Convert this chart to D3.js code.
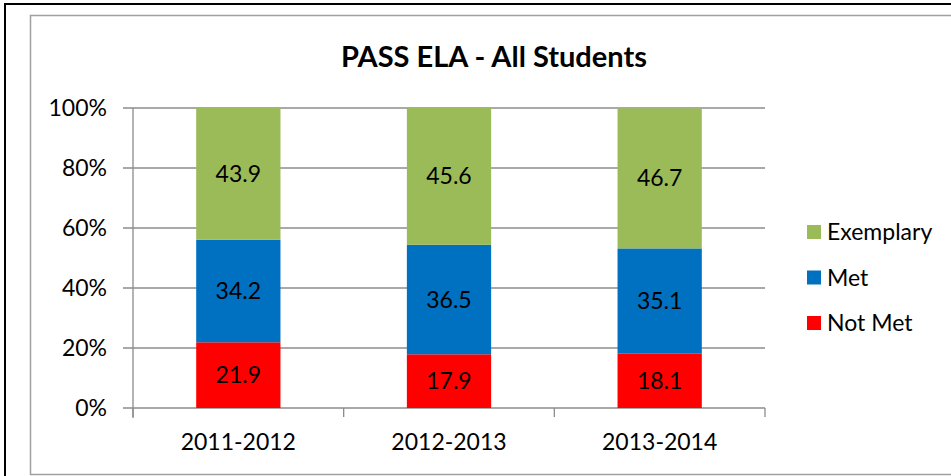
<!DOCTYPE html>
<html><head><meta charset="utf-8">
<script src="https://cdn.jsdelivr.net/npm/d3@7"></script>
<style>body{margin:0;background:#fff}svg{display:block}text{font-family:Lato,"Open Sans",sans-serif}</style>
</head><body>
<script>
const categories = ["2011-2012","2012-2013","2013-2014"];
const seriesNames = ["Not Met","Met","Exemplary"];
const notMet = [21.9,17.9,18.1];
const met = [34.2,36.5,35.1];
const exemplary = [43.9,45.6,46.7];
const yTicks = [0,20,40,60,80,100];
const colors = {"Not Met":"#FF0000","Met":"#0070C0","Exemplary":"#9BBB59"};

const W=951,H=476;
const svg=d3.select("body").append("svg").attr("width",W).attr("height",H);
// outer black frame
svg.append("rect").attr("x",5).attr("y",4).attr("width",W+10).attr("height",H+10)
  .attr("fill","none").attr("stroke","#000").attr("stroke-width",2);
// chart area frame
svg.append("rect").attr("x",30.5).attr("y",15.5).attr("width",W).attr("height",459)
  .attr("fill","#fff").attr("stroke","#a0a0a0").attr("stroke-width",1.5);

const m={l:133,t:108,r:765,b:408};
const x=d3.scaleBand().domain(categories).range([m.l,m.r]).paddingInner(0.6).paddingOuter(0.3);
const y=d3.scaleLinear().domain([0,100]).range([m.b,m.t]);

// gridlines
svg.append("g").selectAll("line").data(yTicks).join("line")
  .attr("x1",m.l-10).attr("x2",m.r).attr("y1",d=>y(d)).attr("y2",d=>y(d))
  .attr("stroke","#8c8c8c").attr("stroke-width",1.3);
// y axis line
svg.append("line").attr("x1",m.l).attr("x2",m.l).attr("y1",m.t).attr("y2",m.b+10)
  .attr("stroke","#8c8c8c").attr("stroke-width",1.3);
// x ticks at band boundaries
const bounds=[m.l, ...categories.map((c,i)=>m.l+(m.r-m.l)*(i+1)/categories.length)];
svg.append("g").selectAll("line").data(bounds).join("line")
  .attr("x1",d=>d).attr("x2",d=>d).attr("y1",m.b).attr("y2",m.b+9)
  .attr("stroke","#8c8c8c").attr("stroke-width",1.3);

// y labels
svg.append("g").selectAll("text").data(yTicks).join("text")
  .attr("x",107).attr("y",d=>y(d)).attr("dy","0.35em").attr("text-anchor","end")
  .attr("font-size",23).attr("fill","#000").text(d=>d+"%");
// x labels
svg.append("g").selectAll("text").data(categories).join("text")
  .attr("x",(d,i)=>(bounds[i]+bounds[i+1])/2).attr("y",450).attr("text-anchor","middle")
  .attr("font-size",23).attr("fill","#000").text(d=>d);

const table=categories.map((c,i)=>({cat:c,"Not Met":notMet[i],"Met":met[i],"Exemplary":exemplary[i]}));
const stack=d3.stack().keys(seriesNames)(table);
const g=svg.append("g");
stack.forEach(s=>{
  g.selectAll(null).data(s).join("rect")
    .attr("x",d=>x(d.data.cat)).attr("width",x.bandwidth())
    .attr("y",d=>y(d[1])).attr("height",d=>y(d[0])-y(d[1]))
    .attr("fill",colors[s.key]);
  g.selectAll(null).data(s).join("text")
    .attr("x",d=>x(d.data.cat)+x.bandwidth()/2).attr("y",d=>y((d[0]+d[1])/2)).attr("dy","0.35em")
    .attr("text-anchor","middle").attr("font-size",23).attr("fill","#000")
    .text(d=>d.data[s.key].toFixed(1));
});

// title
svg.append("text").attr("x",494).attr("y",67).attr("text-anchor","middle")
  .attr("font-size",29).attr("font-weight","bold").attr("fill","#000").text("PASS ELA - All Students");

// legend
const legendItems=["Exemplary","Met","Not Met"];
const lg=svg.append("g").selectAll("g").data(legendItems).join("g")
  .attr("transform",(d,i)=>`translate(807,${232+i*45.5})`);
lg.append("rect").attr("x",0).attr("y",-7).attr("width",14).attr("height",14).attr("fill",d=>colors[d]);
lg.append("text").attr("x",20).attr("dy","0.35em").attr("font-size",23).attr("fill","#000").text(d=>d);
</script>
</body></html>
